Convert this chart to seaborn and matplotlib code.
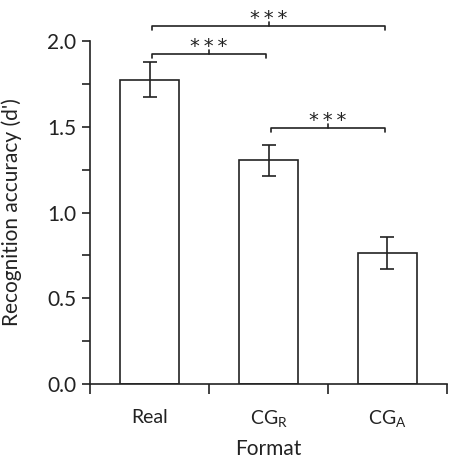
import matplotlib
matplotlib.use("Agg")
import matplotlib.pyplot as plt
import seaborn as sns
import pandas as pd

formats = ["Real", "CG$_\\mathregular{R}$", "CG$_\\mathregular{A}$"]
accuracy = [1.775, 1.305, 0.765]
sem = [0.10, 0.09, 0.095]

# pairs compared, bracket height, label
comparisons = [(0, 2, 2.087, "***"), (0, 1, 1.924, "***"), (1, 2, 1.493, "***")]

sns.set_style("ticks")
plt.rcParams["font.family"] = ["Lato", "DejaVu Sans"]
plt.rcParams["mathtext.fontset"] = "custom"
plt.rcParams["mathtext.rm"] = "Lato"

df = pd.DataFrame({"Format": formats, "acc": accuracy})

fig = plt.figure(figsize=(4.51, 4.61), dpi=100)
ax = fig.add_axes([0.1996, 0.167, 0.7915, 0.744])

sns.barplot(data=df, x="Format", y="acc", color="white", edgecolor="#222222",
            linewidth=1.2, width=0.5, errorbar=None, ax=ax)
ax.errorbar(range(len(formats)), accuracy, yerr=sem, fmt="none", ecolor="#222222",
            elinewidth=1.2, capsize=5, capthick=1.2)

ax.set_xlim(-0.5, 2.5)
ax.set_ylim(0, 2.0)
ax.set_yticks([0, 0.5, 1.0, 1.5, 2.0])
ax.set_yticklabels(["0.0", "0.5", "1.0", "1.5", "2.0"])
ax.set_yticks([0.25, 0.75, 1.25, 1.75], minor=True)
ax.tick_params(axis="y", which="both", direction="out", length=6, width=1.2,
               labelsize=15, colors="#222222", pad=4)

ax.set_xticks([0, 1, 2])
ax.set_xticklabels(formats)
ax.set_xticks([-0.5, 0.5, 1.5, 2.5], minor=True)
ax.tick_params(axis="x", which="major", length=0, labelsize=14, pad=18,
               colors="#222222")
ax.tick_params(axis="x", which="minor", direction="out", length=7, width=1.2,
               colors="#222222")

for s in ["top", "right"]:
    ax.spines[s].set_visible(False)
for s in ["left", "bottom"]:
    ax.spines[s].set_linewidth(1.2)
    ax.spines[s].set_color("#222222")

ax.set_xlabel("Format", fontsize=15, color="#222222", labelpad=6)
ax.set_ylabel("Recognition accuracy (d')", fontsize=15, color="#222222")
ax.yaxis.set_label_coords(-0.19, 0.5)

for x1, x2, h, lab in comparisons:
    x1 += 0.02
    x2 -= 0.02
    ax.plot([x1, x1, x2, x2], [h - 0.025, h, h, h - 0.025], color="#222222",
            lw=1.2, clip_on=False)
    xm = (x1 + x2) / 2
    ax.plot([xm, xm], [h, h + 0.025], color="#222222", lw=1.2, clip_on=False)
    ax.text(xm, h + 0.012, "\u2009".join(lab), ha="center", va="baseline",
            fontsize=14, family="DejaVu Sans", color="#222222")

fig.savefig("out.png", dpi=100)
